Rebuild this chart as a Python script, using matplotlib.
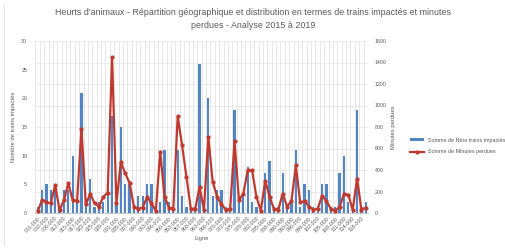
import matplotlib
matplotlib.use("Agg")
import matplotlib.pyplot as plt
import numpy as np

# ---- data ----
lignes = [
    "001-000", "001-300", "002-000", "004-300", "006-000", "010-000", "012-000", "013-000",
    "015-000", "016-000", "017-000", "020-000", "022-000", "024-000", "025-000", "026-000",
    "029-000", "030-000", "031-000", "033-000", "035-000", "036-000", "037-000", "039-000",
    "040-000", "042-000", "043-000", "045-000", "046-000", "048-000", "050-000", "051-000",
    "053-000", "055-000", "057-000", "059-000", "060-000", "061-000", "063-000", "064-000",
    "066-000", "068-000", "070-000", "071-000", "072-000", "074-000", "075-000", "077-000",
    "078-000", "080-000", "082-000", "083-000", "085-000", "086-000", "088-000", "089-000",
    "090-000", "092-000", "093-000", "095-000", "096-000", "098-000", "099-000", "100-000",
    "102-000", "103-000", "105-000", "106-000", "108-000", "110-000", "111-000", "113-000",
    "114-000", "116-000", "118-000", "120-000",
]

trains = [
    1, 4, 5, 4, 5, 1, 4, 4, 10, 2, 21, 2, 6, 1, 2, 2,
    5, 17, 2, 15, 5, 5, 1, 3, 3, 5, 5, 1, 2, 11, 2, 1,
    11, 3, 1, 1, 1, 26, 1, 20, 3, 4, 4, 1, 1, 18, 2, 3,
    8, 2, 1, 1, 7, 9, 1, 1, 7, 1, 2, 11, 1, 5, 4, 1,
    1, 5, 5, 1, 1, 7, 10, 2, 1, 18, 1, 2,
]

minutes = [
    15, 121, 100, 90, 261, 25, 120, 276, 120, 110, 785, 80, 180, 90, 60, 150,
    190, 1450, 90, 475, 370, 280, 60, 40, 50, 150, 90, 20, 570, 150, 50, 40,
    900, 630, 337, 40, 40, 240, 30, 707, 290, 150, 80, 30, 40, 670, 120, 180,
    397, 397, 150, 20, 300, 150, 40, 30, 180, 60, 110, 443, 100, 110, 60, 30,
    40, 160, 110, 40, 20, 60, 175, 170, 30, 320, 30, 50,
]

left_ticks = [0, 5, 10, 15, 20, 25, 30]
right_ticks = [0, 200, 400, 600, 800, 1000, 1200, 1400, 1600]

title = ("Heurts d'animaux - Répartition géographique et distribution en termes de trains impactés et minutes\n"
         "perdues - Analyse 2015 à 2019")

# ---- figure ----
plt.rcParams['font.family'] = ['Liberation Sans', 'DejaVu Sans']
fig = plt.figure(figsize=(5.06, 2.5), dpi=100)
ax = fig.add_axes([35.5 / 506, 1 - 213 / 250, (368 - 35.5) / 506, (213 - 41) / 250])
ax2 = ax.twinx()

x = np.arange(len(lignes))
blue = "#5285C4"
red = "#C0392F"

ax.bar(x, trains, width=0.5, color=blue, zorder=3, label="Somme de Nbre trains impactés")
ax2.plot(x, minutes, color=red, lw=1.6, marker='o', ms=2.0, zorder=4,
         label="Somme de Minutes perdues")

ax.set_xlim(-0.5, len(lignes) - 0.5)
ax.set_ylim(0, 30)
ax2.set_ylim(0, 1600)
ax.set_yticks(left_ticks)
ax2.set_yticks(right_ticks)

# gridlines
ax.set_xticks(np.arange(-0.5, len(lignes), 1), minor=True)
ax.grid(which='minor', axis='x', color='#DCDCDC', lw=0.5, zorder=0)
for v in right_ticks[1:]:
    ax.axhline(v / 1600 * 30, color='#E4E4E4', lw=0.5, zorder=0)

ax.set_xticks(x[::2])
ax.set_xticklabels(lignes[::2], rotation=45, ha='right', rotation_mode='anchor',
                   fontsize=3.8, color='#595959')
ax.tick_params(axis='x', which='both', length=0, pad=2)
ax.tick_params(axis='y', length=0, labelsize=3.8, colors='#595959', pad=6)
ax2.tick_params(axis='y', length=0, labelsize=3.8, colors='#595959', pad=5)

for sp in ax.spines.values():
    sp.set_visible(False)
for sp in ax2.spines.values():
    sp.set_visible(False)
ax.spines['bottom'].set_visible(True)
ax.spines['bottom'].set_color('#BFBFBF')
ax.spines['bottom'].set_linewidth(0.6)

ax.set_ylabel("Nombre de trains impactés", fontsize=4.2, color='#595959', labelpad=4)
ax2.set_ylabel("Minutes perdues", fontsize=4.2, color='#595959', labelpad=3)
ax.set_xlabel("Ligne", fontsize=4.2, color='#595959', labelpad=2)

fig.text(0.5, 1 - 19 / 250, title, ha='center', va='center', fontsize=6.4,
         color='#595959', linespacing=1.45)

h1, l1 = ax.get_legend_handles_labels()
h2, l2 = ax2.get_legend_handles_labels()
fig.legend(h1 + h2, l1 + l2, loc='center left', bbox_to_anchor=(408 / 506, 1 - 146 / 250),
           frameon=False, fontsize=3.9, labelcolor='#595959', handlelength=2.5,
           handleheight=0.5, borderaxespad=0, labelspacing=1.2)

# faint chart border line on left
fig.add_artist(plt.Line2D([4 / 506, 4 / 506], [0.02, 0.98], color='#E0E0E0', lw=0.6))

fig.savefig("out.png", dpi=100)
